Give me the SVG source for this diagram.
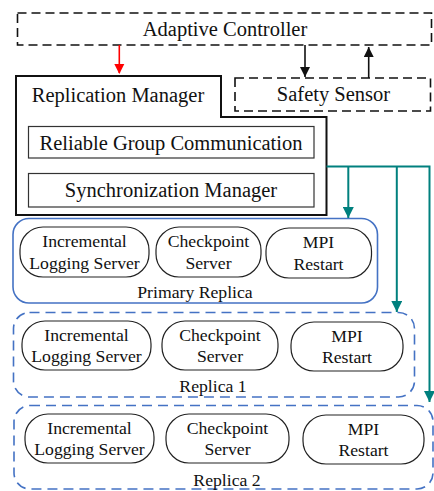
<svg xmlns="http://www.w3.org/2000/svg" width="434" height="491" viewBox="0 0 434 491" font-family="'Liberation Serif', 'Times New Roman', Times, 'DejaVu Serif', serif">
<style>
text{fill:#111;text-anchor:middle}
.big{font-size:20.5px}
.sm{font-size:17.7px}
.dashk{fill:none;stroke:#111;stroke-width:1.6;stroke-dasharray:9 5}
.inner{fill:none;stroke:#333;stroke-width:1.2}
.pill{fill:#fff;stroke:#222;stroke-width:1.2}
.rep{fill:none;stroke:#4472C4;stroke-width:1.6}
.repd{fill:none;stroke:#4472C4;stroke-width:1.6;stroke-dasharray:10 6}
.teal{fill:none;stroke:#00807E;stroke-width:2}
</style>
<defs>
<marker id="ar" markerUnits="userSpaceOnUse" markerWidth="10" markerHeight="12" refX="9" refY="5" orient="auto" viewBox="0 0 10 10"><path d="M0,0 L10,5 L0,10 Z" fill="#FF0000"/></marker>
<marker id="ak" markerUnits="userSpaceOnUse" markerWidth="13" markerHeight="10" refX="10" refY="5" orient="auto" viewBox="0 0 10 10"><path d="M0,0 L10,5 L0,10 Z" fill="#111"/></marker>
<marker id="at" markerUnits="userSpaceOnUse" markerWidth="13" markerHeight="11" refX="10" refY="5" orient="auto" viewBox="0 0 10 10"><path d="M0,0 L10,5 L0,10 Z" fill="#00807E"/></marker>
</defs>

<g id="adaptive-controller">
<rect class="dashk" x="17.5" y="13" width="414" height="32"/>
<text class="big" x="225" y="35.5">Adaptive Controller</text>
</g>

<g id="safety-sensor">
<rect class="dashk" x="235" y="78" width="195.5" height="33"/>
<text class="big" x="333.5" y="100.5">Safety Sensor</text>
</g>

<g id="replication-manager">
<path d="M16,76 H221 V117 H326.5 V215 H16 Z" fill="#fff" stroke="#111" stroke-width="2"/>
<text class="big" x="118" y="102">Replication Manager</text>
</g>

<g id="reliable-group-communication">
<rect class="inner" x="28.5" y="126.5" width="285.5" height="31.5"/>
<text class="big" x="171" y="149.5">Reliable Group Communication</text>
</g>

<g id="synchronization-manager">
<rect class="inner" x="28.5" y="173.5" width="285.5" height="33.5"/>
<text class="big" x="171" y="196.5">Synchronization Manager</text>
</g>

<g id="primary-replica">
<rect class="rep" x="13" y="218.5" width="364.5" height="84.5" rx="16"/>
<text class="sm" x="195" y="297.5">Primary Replica</text>
<rect class="pill" x="20" y="227" width="129" height="50" rx="23"/>
<text class="sm" x="84.5" y="247">Incremental</text>
<text class="sm" x="84.5" y="269">Logging Server</text>
<rect class="pill" x="156" y="227" width="105" height="50" rx="23"/>
<text class="sm" x="208.5" y="247">Checkpoint</text>
<text class="sm" x="208.5" y="269">Server</text>
<rect class="pill" x="266" y="228" width="105.5" height="50" rx="23"/>
<text class="sm" x="318.5" y="247.5">MPI</text>
<text class="sm" x="318.5" y="269.5">Restart</text>
</g>

<g id="replica-1">
<rect class="repd" x="13.5" y="312.5" width="401" height="84.5" rx="16"/>
<text class="sm" x="213" y="392">Replica 1</text>
<rect class="pill" x="22" y="321" width="129" height="49" rx="23"/>
<text class="sm" x="86.5" y="340.5">Incremental</text>
<text class="sm" x="86.5" y="362">Logging Server</text>
<rect class="pill" x="162" y="321" width="116" height="49" rx="23"/>
<text class="sm" x="220" y="340.5">Checkpoint</text>
<text class="sm" x="220" y="362">Server</text>
<rect class="pill" x="291" y="322" width="112" height="49" rx="23"/>
<text class="sm" x="347" y="341.5">MPI</text>
<text class="sm" x="347" y="363">Restart</text>
</g>

<g id="replica-2">
<rect class="repd" x="14" y="405.5" width="419" height="83.5" rx="16"/>
<text class="sm" x="227" y="485.5">Replica 2</text>
<rect class="pill" x="25" y="414" width="129" height="49" rx="23"/>
<text class="sm" x="89.5" y="433.5">Incremental</text>
<text class="sm" x="89.5" y="455">Logging Server</text>
<rect class="pill" x="166" y="414" width="123" height="49" rx="23"/>
<text class="sm" x="227.5" y="433.5">Checkpoint</text>
<text class="sm" x="227.5" y="455">Server</text>
<rect class="pill" x="303" y="415" width="121" height="49" rx="23"/>
<text class="sm" x="363.5" y="434.5">MPI</text>
<text class="sm" x="363.5" y="456">Restart</text>
</g>

<g id="connectors">
<line x1="119.3" y1="45" x2="119.3" y2="73" stroke="#FF0000" stroke-width="1.6" marker-end="url(#ar)"/>
<line x1="305" y1="45" x2="305" y2="77" stroke="#111" stroke-width="1.6" marker-end="url(#ak)"/>
<line x1="368.7" y1="78" x2="368.7" y2="47" stroke="#111" stroke-width="1.6" marker-end="url(#ak)"/>
<path class="teal" d="M326.5,166.5 H429.5 V402" marker-end="url(#at)"/>
<line class="teal" x1="348.3" y1="166.5" x2="348.3" y2="218" marker-end="url(#at)"/>
<line class="teal" x1="396.8" y1="166.5" x2="396.8" y2="312" marker-end="url(#at)"/>
</g>
</svg>
